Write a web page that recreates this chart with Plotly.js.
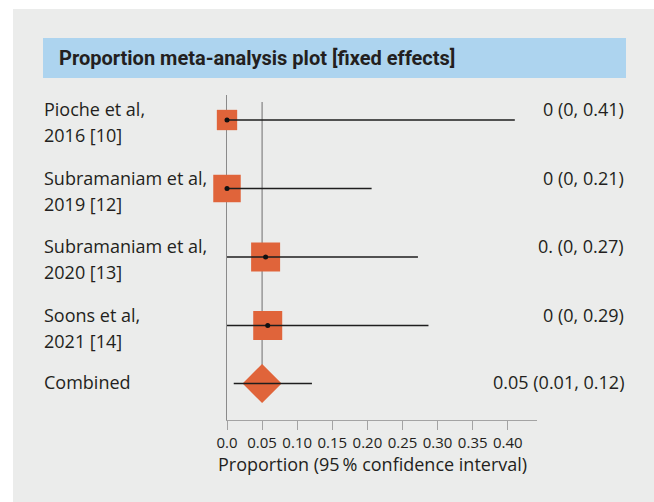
<!DOCTYPE html>
<html>
<head>
<meta charset="utf-8">
<script src="https://cdn.plot.ly/plotly-3.0.1.min.js"></script>
<style>html,body{margin:0;padding:0;background:#fff;}#chart{width:654px;height:502px;}</style>
</head>
<body>
<div id="chart"></div>
<script>
// ---- data ----
const studyNames = ["Pioche et al,", "Subramaniam et al,", "Subramaniam et al,", "Soons et al,"];
const studyRefs  = ["2016 [10]", "2019 [12]", "2020 [13]", "2021 [14]"];
const estimates  = [0.0, 0.0, 0.055, 0.058];
const lowerCI    = [0.0, 0.0, 0.0, 0.0];
const upperCI    = [0.41, 0.206, 0.272, 0.287];
const estLabels  = ["0 (0, 0.41)", "0 (0, 0.21)", "0. (0, 0.27)", "0 (0, 0.29)"];
const weights    = [14.5, 26.5, 29.5, 29.5];
const pooledName  = "Combined";
const pooledEst   = 0.05;
const pooledLower = 0.0096;
const pooledUpper = 0.121;
const pooledLabel = "0.05 (0.01, 0.12)";
const tickVals   = [0, 0.05, 0.10, 0.15, 0.20, 0.25, 0.30, 0.35, 0.40];
const tickText   = ["0.0", "0.05", "0.10", "0.15", "0.20", "0.25", "0.30", "0.35", "0.40"];
const titleText  = "Proportion meta-analysis plot [fixed effects]";
const xTitleText = "Proportion (95\u2009% confidence interval)";

// ---- layout helpers ----
const W = 654, H = 502;
const M = {l: 227, r: 117, t: 95, b: 82};
const plotW = W - M.l - M.r, plotH = H - M.t - M.b;
const pxX = p => (p - M.l) / plotW;
const pxY = p => (H - M.b - p) / plotH;
const row0px = 120;

// row centres from number of text lines per row
const lineCounts = [2, 2, 2, 2, 1];
const rowH = lineCounts.map(n => 26.5 + 21 * n);
const rowY = [0];
for (let i = 1; i < rowH.length; i++) rowY.push(rowY[i - 1] + (rowH[i - 1] + rowH[i]) / 2);

const orange = "#e0643a", ink = "#231f20", bg = "#ebeceb";
const labelFont = {family: "Open Sans, sans-serif", size: 18, color: ink};

const traces = [
  { // study squares
    x: estimates, y: rowY.slice(0, 4), type: "scatter", mode: "markers",
    marker: {symbol: "square", size: weights.map(w => 5.34 * Math.sqrt(w)), color: orange, opacity: 1, line: {width: 0}},
    cliponaxis: false, hoverinfo: "skip", showlegend: false
  },
  { // pooled diamond
    x: [pooledEst], y: [rowY[4]], type: "scatter", mode: "markers",
    marker: {symbol: "diamond", size: 30, color: orange, opacity: 1, line: {width: 0}},
    cliponaxis: false, hoverinfo: "skip", showlegend: false
  },
  { // CIs and point dots
    x: estimates.concat([pooledEst]), y: rowY, type: "scatter", mode: "markers",
    marker: {symbol: "circle", size: [5, 5, 5, 5, 0], color: "#111", opacity: 1, line: {width: 0}},
    error_x: {
      type: "data", symmetric: false,
      array: upperCI.map((u, i) => u - estimates[i]).concat([pooledUpper - pooledEst]),
      arrayminus: lowerCI.map((l, i) => estimates[i] - l).concat([pooledEst - pooledLower]),
      color: "#1e1e1e", thickness: 1.5, width: 0
    },
    cliponaxis: false, hoverinfo: "skip", showlegend: false
  }
];

const annotations = [];
studyNames.forEach((n, i) => {
  annotations.push({xref: "paper", yref: "y", x: pxX(42), y: rowY[i] - 11, xanchor: "left", yanchor: "middle", text: n, showarrow: false, font: labelFont});
  annotations.push({xref: "paper", yref: "y", x: pxX(42), y: rowY[i] + 15, xanchor: "left", yanchor: "middle", text: studyRefs[i], showarrow: false, font: labelFont});
  annotations.push({xref: "paper", yref: "y", x: pxX(626), y: rowY[i] - 11, xanchor: "right", yanchor: "middle", text: estLabels[i], showarrow: false, font: labelFont});
});
annotations.push({xref: "paper", yref: "y", x: pxX(42), y: rowY[4] - 2, xanchor: "left", yanchor: "middle", text: pooledName, showarrow: false, font: labelFont});
annotations.push({xref: "paper", yref: "y", x: pxX(626), y: rowY[4] - 2, xanchor: "right", yanchor: "middle", text: pooledLabel, showarrow: false, font: labelFont});
annotations.push({xref: "paper", yref: "paper", x: pxX(372), y: pxY(464), xanchor: "center", yanchor: "middle", text: xTitleText, showarrow: false, font: labelFont});

const shapes = [
  {type: "rect", xref: "paper", yref: "paper", x0: pxX(0), x1: pxX(W), y0: pxY(0), y1: pxY(9), fillcolor: "#ffffff", line: {width: 0}, layer: "below"},
  {type: "rect", xref: "paper", yref: "paper", x0: pxX(0), x1: pxX(13), y0: pxY(0), y1: pxY(H), fillcolor: "#ffffff", line: {width: 0}, layer: "below"},
  {type: "rect", xref: "paper", yref: "paper", x0: pxX(43), x1: pxX(626), y0: pxY(78), y1: pxY(38), fillcolor: "#add4ef", line: {width: 0}, layer: "below"},
  {type: "line", xref: "x", yref: "y", x0: pooledEst, x1: pooledEst, y0: -18, y1: rowY[4], line: {color: "#8a8a8a", width: 1.3}, layer: "below"}
];

const layout = {
  width: W, height: H,
  margin: M,
  paper_bgcolor: bg, plot_bgcolor: bg,
  showlegend: false,
  title: {
    text: "<b>" + titleText + "</b>",
    xref: "container", yref: "container", x: 59 / W, y: 1 - 58 / H,
    xanchor: "left", yanchor: "middle",
    font: {family: "Roboto, sans-serif", size: 20, color: ink}
  },
  xaxis: {
    range: [0, plotW / 702], fixedrange: true,
    showgrid: false, zeroline: false,
    showline: true, linecolor: "#a3a3a3", linewidth: 1,
    ticks: "outside", ticklen: 9, tickwidth: 1, tickcolor: "#a3a3a3",
    tickvals: tickVals, ticktext: tickText,
    tickfont: {family: "Open Sans, sans-serif", size: 15, color: ink}
  },
  yaxis: {
    range: [H - M.b - row0px, M.t - row0px], fixedrange: true,
    showgrid: false, zeroline: false, showticklabels: false, ticks: "",
    showline: true, linecolor: "#8a8a8a", linewidth: 1, layer: "below traces"
  },
  shapes: shapes,
  annotations: annotations
};

Plotly.newPlot("chart", traces, layout, {staticPlot: true, displayModeBar: false});
</script>
</body>
</html>
